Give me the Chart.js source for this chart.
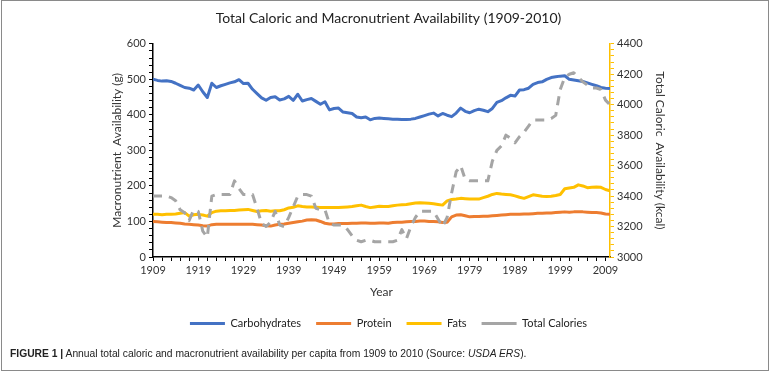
<!DOCTYPE html>
<html>
<head>
<meta charset="utf-8">
<script src="https://cdn.jsdelivr.net/npm/chart.js@4/dist/chart.umd.min.js"></script>
<style>
body { margin: 0; background: #fff; }
#wrap { position: relative; width: 772px; height: 373px; overflow: hidden; }
#box { position: absolute; left: 0; top: 0; width: 772px; height: 339px; }
#frame { position: absolute; left: 1px; top: 0; width: 766px; height: 369px; border: 1px solid #8a8a8a; pointer-events: none; }
#caption { position: absolute; left: 10px; top: 348px; font: 10.3px "Liberation Sans", Arial, sans-serif; color: #222; white-space: nowrap; }
</style>
</head>
<body>
<div id="wrap">
  <div id="box"><canvas id="chart"></canvas></div>
  <div id="frame"></div>
  <div id="caption"><b>FIGURE 1 |</b> Annual total caloric and macronutrient availability per capita from 1909 to 2010 (Source: <i>USDA ERS</i>).</div>
</div>
<script>
// years 1909..2010
const years = Array.from({length: 102}, (_, i) => 1909 + i);

const xLabels = [1909, 1919, 1929, 1939, 1949, 1959, 1969, 1979, 1989, 1999, 2009];
const leftLabels = [0, 100, 200, 300, 400, 500, 600];
const rightLabels = [3000, 3200, 3400, 3600, 3800, 4000, 4200, 4400];

// grams per capita per day
const carbs = [
  500, 497, 495, 496, 494, 489, 483, 477, 475, 470,
  484, 465, 449, 489, 477, 482, 486, 490, 493, 499,
  488, 489, 472, 460, 448, 441, 449, 451, 442, 445,
  452, 441, 458, 439, 443, 446, 438, 430, 437, 414,
  418, 419, 408, 406, 404, 394, 392, 394, 386, 390,
  391, 390, 389, 388, 388, 387, 387, 388, 390, 394,
  398, 402, 405, 397, 404, 399, 395, 405, 419, 410,
  406, 412, 416, 413, 409, 418, 435, 440, 448, 455,
  453, 470, 471, 475, 486, 491, 493, 500, 505, 507,
  509, 510, 500, 498, 496, 494, 490, 486, 482, 477,
  475, 474
];
const protein = [
  100, 99, 98, 97, 97, 96, 95, 93, 92, 91,
  90, 88, 87, 91, 92, 92, 92, 92, 92, 92,
  92, 92, 92, 91, 90, 88, 87, 90, 92, 93,
  95, 97, 99, 101, 104, 105, 104, 100, 95, 93,
  93, 94, 94, 94, 95, 95, 96, 96, 95, 95,
  96, 96, 95, 97, 98, 98, 99, 100, 100, 101,
  101, 100, 100, 99, 97, 98, 113, 118, 119, 116,
  113, 114, 114, 115, 115, 116, 117, 118, 119, 120,
  120, 120, 121, 121, 122, 123, 123, 124, 124, 125,
  126, 127, 126, 127, 127, 127, 126, 125, 125, 124,
  121, 120
];
const fats = [
  120, 120, 119, 120, 120, 121, 123, 125, 115, 119,
  120, 118, 115, 125, 129, 130, 130, 131, 131, 132,
  133, 134, 131, 128, 130, 131, 129, 130, 130, 133,
  138, 140, 144, 142, 141, 141, 140, 139, 139, 139,
  139, 139, 140, 141, 142, 144, 146, 142, 139, 141,
  143, 142, 142, 144, 146, 147, 148, 150, 152, 153,
  152, 151, 150, 148, 146, 158, 162, 163, 165, 164,
  163, 163, 163, 167, 171, 176, 179, 177, 176, 175,
  172, 168, 165, 170, 175, 173, 171, 170, 171, 173,
  176, 192, 194, 196, 203, 200, 195, 196, 197, 196,
  190, 186
];
// kcal per capita per day
const calories = [
  3400, 3400, 3400, 3400, 3390, 3370, 3310, 3290, 3240, 3310,
  3300, 3170, 3130, 3400, 3410, 3410, 3410, 3410, 3500, 3450,
  3410, 3410, 3410, 3320, 3220, 3200, 3230, 3300, 3210, 3200,
  3260, 3330, 3400, 3410, 3410, 3400, 3320, 3310, 3310, 3220,
  3210, 3210, 3210, 3180, 3140, 3110, 3100, 3110, 3110, 3100,
  3100, 3100, 3100, 3100, 3110, 3180, 3120, 3200, 3260, 3300,
  3300, 3300, 3300, 3250, 3200, 3260, 3420, 3560, 3600, 3510,
  3500, 3500, 3500, 3500, 3500, 3630, 3700, 3730, 3800, 3780,
  3750, 3790, 3820, 3860, 3900, 3900, 3900, 3900, 3910, 3930,
  4100, 4180, 4200, 4210, 4180, 4150, 4130, 4110, 4110, 4100,
  4030, 4000
];

const pts = arr => arr.map((v, i) => ({x: years[i], y: v}));
const textColor = '#333';
const font = {family: 'Lato, "Open Sans", sans-serif', size: 11};

Chart.defaults.font.family = font.family;
Chart.defaults.color = textColor;

new Chart(document.getElementById('chart'), {
    type: 'line',
    data: {
        datasets: [{
            label: 'Carbohydrates',
            data: pts(carbs),
            borderColor: '#4472C4',
            backgroundColor: '#4472C4',
            borderWidth: 3,
            yAxisID: 'y',
            order: 3
        }, {
            label: 'Protein',
            data: pts(protein),
            borderColor: '#ED7D31',
            backgroundColor: '#ED7D31',
            borderWidth: 3,
            yAxisID: 'y',
            order: 2
        }, {
            label: 'Fats',
            data: pts(fats),
            borderColor: '#FFC000',
            backgroundColor: '#FFC000',
            borderWidth: 3,
            yAxisID: 'y',
            order: 1
        }, {
            label: 'Total Calories',
            data: pts(calories),
            borderColor: '#A5A5A5',
            backgroundColor: '#A5A5A5',
            borderWidth: 3,
            borderDash: [9, 7],
            yAxisID: 'y1',
            order: 0
        }]
    },
    options: {
        responsive: true,
        maintainAspectRatio: false,
        animation: false,
        devicePixelRatio: 1,
        elements: {
            point: {radius: 0},
            line: {tension: 0, borderJoinStyle: 'round'}
        },
        layout: {padding: {left: 106, right: 101, top: 0, bottom: 0}},
        scales: {
            x: {
                type: 'linear',
                min: 1909,
                max: 2010,
                afterBuildTicks: s => {
                    const t = [];
                    for (let v = 1909; v <= 2009; v += 2) t.push({value: v});
                    s.ticks = t;
                },
                ticks: {
                    autoSkip: false,
                    maxRotation: 0,
                    font: font,
                    color: textColor,
                    callback: v => xLabels.includes(v) ? String(v) : ''
                },
                grid: {drawOnChartArea: false, tickLength: 4, color: '#000', lineWidth: 1},
                border: {color: '#000', width: 1.5},
                title: {display: true, text: 'Year', font: {size: 12}, color: textColor},
                afterFit: s => { s.height = 46; }
            },
            y: {
                position: 'left',
                min: 0,
                max: 600,
                afterBuildTicks: s => {
                    const t = [];
                    for (let v = 0; v <= 600; v += 20) t.push({value: v});
                    s.ticks = t;
                },
                ticks: {
                    autoSkip: false,
                    font: font,
                    color: textColor,
                    callback: v => leftLabels.includes(v) ? String(v) : ''
                },
                grid: {drawOnChartArea: false, tickLength: 4, color: '#000'},
                border: {color: '#000', width: 1.5},
                title: {display: true, text: 'Macronutrient  Availability (g)', font: {size: 12}, color: textColor},
                afterFit: s => { s.width = 47; }
            },
            y1: {
                position: 'right',
                min: 3000,
                max: 4400,
                afterBuildTicks: s => {
                    const t = [];
                    for (let v = 3000; v <= 4400; v += 40) t.push({value: v});
                    s.ticks = t;
                },
                ticks: {
                    autoSkip: false,
                    font: font,
                    color: textColor,
                    callback: v => rightLabels.includes(v) ? String(v) : ''
                },
                grid: {drawOnChartArea: false, tickLength: 4, color: '#FFC000'},
                border: {color: '#FFC000', width: 1.5},
                title: {display: true, text: 'Total Caloric  Availability (kcal)', font: {size: 12}, color: textColor},
                afterFit: s => { s.width = 61; }
            }
        },
        plugins: {
            title: {
                display: true,
                text: 'Total Caloric and Macronutrient Availability (1909-2010)',
                color: '#222',
                font: {size: 14, weight: 'normal'},
                padding: {top: 10, bottom: 17}
            },
            legend: {
                position: 'bottom',
                labels: {
                    usePointStyle: true,
                    pointStyle: 'line',
                    pointStyleWidth: 35,
                    font: font,
                    color: '#222',
                    padding: 15,
                    sort: (a, b) => a.datasetIndex - b.datasetIndex
                }
            },
            tooltip: {enabled: false}
        }
    }
});
</script>
</body>
</html>
